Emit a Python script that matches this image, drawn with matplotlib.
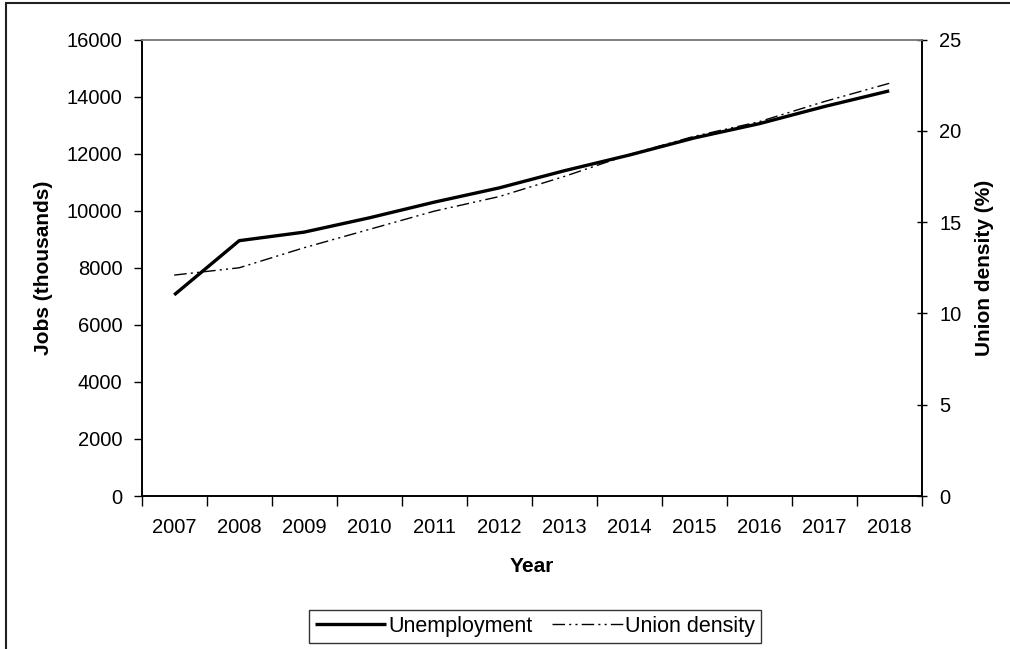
import matplotlib
matplotlib.use("Agg")
import matplotlib.pyplot as plt
from matplotlib.patches import Rectangle
import numpy as np

plt.rcParams['font.family'] = ['Liberation Sans', 'DejaVu Sans']

years = ['2007', '2008', '2009', '2010', '2011', '2012',
         '2013', '2014', '2015', '2016', '2017', '2018']
unemployment = [7050, 8950, 9250, 9750, 10300, 10800,
                11400, 11950, 12550, 13050, 13650, 14200]
union_density = [12.1, 12.5, 13.6, 14.6, 15.6, 16.4,
                 17.5, 18.7, 19.7, 20.5, 21.6, 22.6]

fig = plt.figure(figsize=(10.10, 6.49), dpi=100)
ax = fig.add_axes([0.1403, 0.2357, 0.7723, 0.7034])
ax2 = ax.twinx()

x = np.arange(len(years)) + 0.5
l1, = ax.plot(x, unemployment, color='black', lw=2.4,
              solid_joinstyle='round', solid_capstyle='butt', zorder=3)
l2, = ax2.plot(x, union_density, color='black', lw=1.0,
               dashes=(9, 3, 1.5, 3, 1.5, 3))

ax.set_xlim(0, len(years))
ax.set_ylim(0, 16000)
ax2.set_ylim(0, 25)
ax.set_yticks(np.arange(0, 16001, 2000))
ax2.set_yticks(np.arange(0, 26, 5))
ax.set_xticks(np.arange(0, len(years) + 1))
ax.set_xticklabels([])
ax.set_xticks(x, minor=True)
ax.set_xticklabels(years, minor=True, fontsize=14.5)
ax.tick_params(axis='x', which='minor', length=0, pad=16)
ax.tick_params(axis='x', which='major', length=7, width=1, direction='out')
ax.tick_params(axis='y', labelsize=14.5, length=6, width=1, direction='out', pad=8)
ax2.tick_params(axis='y', labelsize=14.5, length=7, width=1, direction='inout', pad=9)

for a in (ax, ax2):
    a.spines['top'].set_color('#808080')
    a.spines['top'].set_linewidth(1.2)
    for s in ('left', 'right', 'bottom'):
        a.spines[s].set_color('black')
        a.spines[s].set_linewidth(1.2)

ax.set_ylabel('Jobs (thousands)', fontsize=15, fontweight='bold', labelpad=10)
ax2.set_ylabel('Union density (%)', fontsize=15, fontweight='bold', labelpad=10)
ax.set_xlabel('Year', fontsize=15, fontweight='bold', labelpad=14)

leg = fig.legend([l1, l2], ['Unemployment', 'Union density'],
                 loc='center', bbox_to_anchor=(0.5297, 0.0347), ncol=2,
                 fontsize=15.5, frameon=True, fancybox=False, edgecolor='black',
                 handlelength=3.3, handletextpad=0.1, columnspacing=0.9,
                 borderpad=0.3, borderaxespad=0)
leg.get_frame().set_linewidth(1.0)

# outer chart frame
fig.patches.append(Rectangle((6 / 1010, -0.1), 1.2, 1 - 3 / 649 + 0.1,
                             transform=fig.transFigure, fill=False,
                             edgecolor='#202020', lw=1.5))

fig.savefig('out.png', dpi=100)
